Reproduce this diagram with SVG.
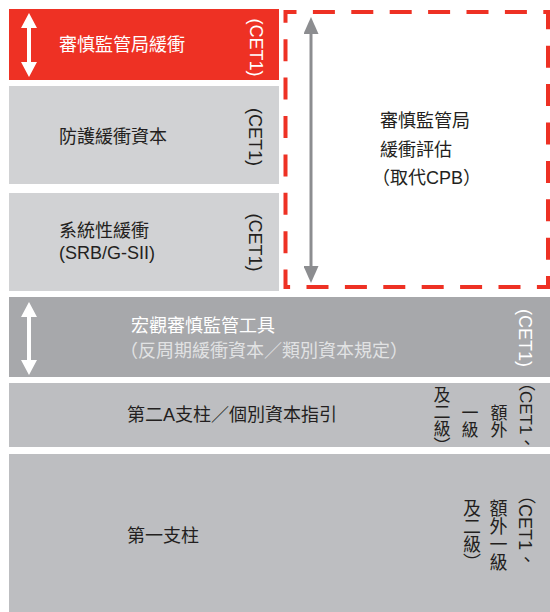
<svg xmlns="http://www.w3.org/2000/svg" width="550" height="612" viewBox="0 0 550 612">
<style>
text{font-family:"Liberation Sans","Noto Sans CJK TC",sans-serif;font-size:18px;fill:#231f20}
.w{fill:#fff}
.sub{fill:#e1e2e3}
.v{writing-mode:vertical-rl}
.v17{writing-mode:vertical-rl;font-size:17px}
.mid{text-anchor:middle}
.red{fill:#ee3124}
.lg{fill:#d1d2d4}
.mg{fill:#a7a8ab}
.pg{fill:#bdbec1}
</style>
<defs>
<marker id="hw" viewBox="0 0 15 16" refX="0" refY="8" markerWidth="15" markerHeight="16" markerUnits="userSpaceOnUse" orient="auto-start-reverse"><path d="M0,0 L15,8 L0,16z" fill="#fff"/></marker>
<marker id="hg" viewBox="0 0 17 15" refX="0" refY="7.5" markerWidth="17" markerHeight="15" markerUnits="userSpaceOnUse" orient="auto-start-reverse"><path d="M0,0 L17,7.5 L0,15z" fill="#8c8d90"/></marker>
</defs>
<rect width="550" height="612" fill="#fff"/>
<g id="ccb-buffer">
<rect class="red" x="9" y="9" width="270" height="71"/>
<text class="w" x="59" y="51">審慎監管局緩衝</text>
<text class="w mid" transform="translate(250,47.5) rotate(90)">(CET1)</text>
</g>
<g id="conservation-buffer">
<rect class="lg" x="9" y="86" width="270" height="98"/>
<text x="59" y="143">防護緩衝資本</text>
<text class="mid" transform="translate(249,137) rotate(90)">(CET1)</text>
</g>
<g id="systemic-buffer">
<rect class="lg" x="9" y="193" width="270" height="98"/>
<text x="59" y="237">系統性緩衝</text>
<text x="59" y="259">(SRB/G-SII)</text>
<text class="mid" transform="translate(249,242.5) rotate(90)">(CET1)</text>
</g>
<g id="ccb-assessment">
<rect x="285.5" y="12" width="262.5" height="275" fill="none" stroke="#ee3124" stroke-width="4" stroke-dasharray="22 16.4" stroke-dashoffset="11"/>
<text x="380" y="127">審慎監管局</text>
<text x="380" y="156">緩衝評估</text>
<text x="372" y="184">（取代CPB）</text>
</g>
<g id="macroprudential">
<rect class="mg" x="9" y="297" width="541" height="80"/>
<text class="w" x="131" y="332">宏觀審慎監管工具</text>
<text class="sub" x="120" y="357">（反周期緩衝資本／類別資本規定）</text>
<text class="w mid" transform="translate(518.5,338) rotate(90)">(CET1)</text>
</g>
<g id="pillar2a">
<rect class="pg" x="9" y="383" width="541" height="64"/>
<text x="127" y="421">第二A支柱／個別資本指引</text>
<text class="v17" x="525" y="374">（CET1、</text>
<text class="v17" x="497" y="404">額外</text>
<text class="v17" x="468" y="404">一級</text>
<text class="v17" x="440" y="386">及二級）</text>
</g>
<g id="pillar1">
<rect class="pg" x="9" y="454" width="541" height="158"/>
<text x="127" y="542">第一支柱</text>
<text class="v" x="525" y="486">（CET1、</text>
<text class="v" x="496.5" y="499">額外一級</text>
<text class="v" x="470" y="499">及二級）</text>
</g>
<g id="connectors">
<line x1="29" y1="28" x2="29" y2="62" stroke="#fff" stroke-width="4" marker-start="url(#hw)" marker-end="url(#hw)"/>
<line x1="29" y1="317" x2="29" y2="360" stroke="#fff" stroke-width="4" marker-start="url(#hw)" marker-end="url(#hw)"/>
<line x1="311" y1="34" x2="311" y2="266" stroke="#8c8d90" stroke-width="3" marker-start="url(#hg)" marker-end="url(#hg)"/>
</g>
</svg>
